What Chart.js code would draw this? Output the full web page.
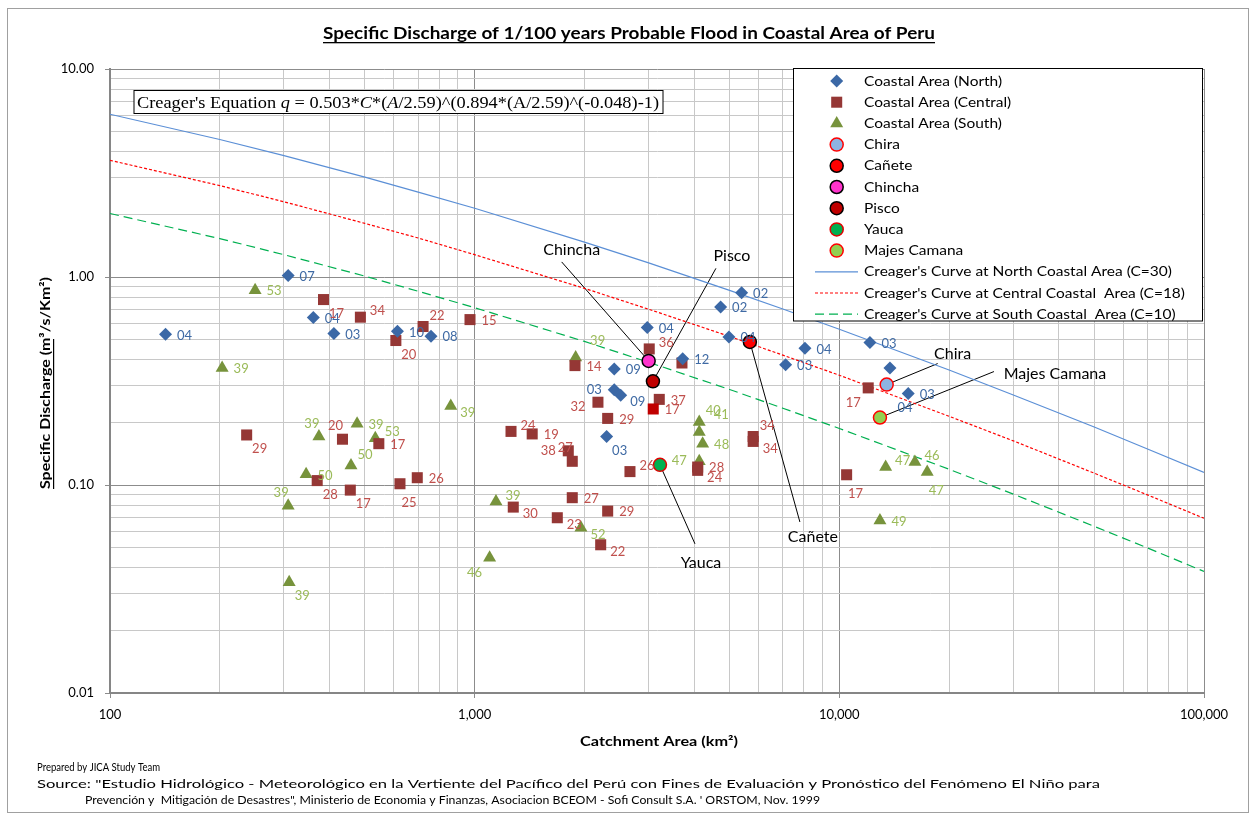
<!DOCTYPE html>
<html>
<head>
<meta charset="utf-8">
<script src="https://cdn.jsdelivr.net/npm/chart.js@4.4.1/dist/chart.umd.min.js"></script>
<style>
  html, body { margin: 0; padding: 0; background: #fff; }
  canvas { display: block; }
</style>
</head>
<body>
<canvas id="floodChart" width="1255" height="816"></canvas>
<script>
// ---- data ----
const northArea = [142, 308, 361, 411, 614, 759, 2974, 5396, 4726, 4981, 3719, 2414, 2414, 2514, 2301, 8049, 7125, 12132, 13764, 15449];
const northQ = [0.530, 1.017, 0.638, 0.535, 0.548, 0.519, 0.571, 0.839, 0.718, 0.515, 0.404, 0.361, 0.287, 0.270, 0.171, 0.454, 0.379, 0.484, 0.365, 0.275];
const northTags = ['04', '07', '04', '03', '10', '08', '04', '02', '02', '04', '12', '09', '03', '09', '03', '04', '03', '03', '04', '03'];

const centralArea = [385, 486, 608, 722, 971, 237, 434, 546, 370, 456, 624, 696, 3011, 3702, 1884, 2178, 2316, 3208, 3088, 1258, 1438, 1806, 1852, 5804, 5804, 2666, 4088, 4088, 1276, 1852, 2316, 1685, 2216, 12001, 10471];
const centralQ = [0.779, 0.641, 0.495, 0.578, 0.624, 0.174, 0.166, 0.158, 0.105, 0.0945, 0.1014, 0.1084, 0.451, 0.386, 0.375, 0.250, 0.209, 0.258, 0.232, 0.181, 0.176, 0.146, 0.130, 0.171, 0.162, 0.116, 0.122, 0.1176, 0.0783, 0.0869, 0.0749, 0.0696, 0.0516, 0.293, 0.112];
const centralTags = ['17', '34', '20', '22', '15', '29', '20', '17', '28', '17', '25', '26', '36', '', '14', '32', '29', '37', '17', '24', '19', '38', '27', '34', '34', '26', '28', '24', '30', '27', '29', '23', '22', '17', '17'];

const southArea = [250, 203, 860, 374, 476, 534, 458, 345, 308, 310, 1144, 1099, 1956, 1892, 4129, 4129, 4219, 4129, 13398, 16118, 17418, 12924];
const southQ = [0.864, 0.365, 0.240, 0.171, 0.197, 0.168, 0.124, 0.1125, 0.0795, 0.0341, 0.0834, 0.0447, 0.0623, 0.410, 0.201, 0.180, 0.158, 0.130, 0.122, 0.129, 0.1154, 0.0675];
const southTags = ['53', '39', '39', '39', '39', '53', '50', '50', '39', '39', '39', '46', '52', '39', '40', '41', '48', '47', '47', '46', '47', '49'];

const riverNames = ['Chira', 'Cañete', 'Chincha', 'Pisco', 'Yauca', 'Majes Camana'];
const riverArea = [13484, 5685, 3000, 3082, 3222, 12924];
const riverQ = [0.304, 0.487, 0.395, 0.315, 0.125, 0.211];

const curveArea = [100, 200, 300, 500, 700, 1000, 2000, 3000, 5000, 7000, 10000, 20000, 30000, 50000, 70000, 100000];
const curveNorth = [6.06, 4.58, 3.83, 3.02, 2.56, 2.14, 1.47, 1.17, 0.863, 0.702, 0.561, 0.357, 0.271, 0.190, 0.149, 0.115];
const curveCentral = [3.64, 2.75, 2.30, 1.81, 1.54, 1.28, 0.882, 0.700, 0.518, 0.421, 0.337, 0.214, 0.163, 0.114, 0.0896, 0.0692];
const curveSouth = [2.02, 1.53, 1.28, 1.01, 0.854, 0.712, 0.490, 0.389, 0.288, 0.234, 0.187, 0.119, 0.0904, 0.0633, 0.0498, 0.0384];

const chartTitle = 'Specific Discharge of 1/100 years Probable Flood in Coastal Area of Peru';
const xTitle = 'Catchment Area (km²)';
const yTitle = 'Specific Discharge (m³/s/Km²)';
const footNotes = [
  'Prepared by JICA Study Team',
  'Source: "Estudio Hidrológico - Meteorológico en la Vertiente del Pacífico del Perú con Fines de Evaluación y Pronóstico del Fenómeno El Niño para',
  'Prevención y  Mitigación de Desastres", Ministerio de Economia y Finanzas, Asociacion BCEOM - Sofi Consult S.A. \' ORSTOM, Nov. 1999'
];

// ---- label placement (style only) ----
const tagOffsets = {
  r: [19, 1], ru: [17, -6], rb: [17, 7], tr: [14, -11], tt: [22, -17], tl: [-7, -13],
  l: [-20, 0], lb: [-20, 5], bl: [-15, 15], br: [13, 14], b: [9, 19], bb: [15, 40]
};
const northPlace = ['r', 'r', 'r', 'r', 'r', 'r', 'r', 'r', 'r', 'r', 'r', 'r', 'l', 'rb', 'br', 'r', 'r', 'r', 'bb', 'r'];
const centralPlace = ['br', 'ru', 'br', 'tr', 'r', 'br', 'tl', 'r', 'br', 'br', 'b', 'r', 'ru', 'r', 'r', 'lb', 'r', 'r', 'r', 'ru', 'r', 'l', 'tl', 'tr', 'rb', 'ru', 'r', 'rb', 'rb', 'r', 'r', 'rb', 'rb', 'bl', 'b'];
const southPlace = ['r', 'r', 'rb', 'tl', 'r', 'ru', 'tr', 'r', 'tl', 'br', 'ru', 'bl', 'rb', 'tt', 'tr', 'tt', 'r', 'l', 'ru', 'ru', 'b', 'r'];

const riverFill = ['#8db4e2', '#ff0000', '#ff33cc', '#c00000', '#00b050', '#92d050'];
const riverEdge = ['#ff0000', '#000000', '#000000', '#000000', '#e00000', '#ff0000'];

// callout line end and text centre, relative to the river point
const callouts = [
  { ds: 5, end: [-87, -99], text: [-77, -111] },
  { ds: 6, end: [63, -113], text: [79, -126] },
  { ds: 4, end: [50, 180], text: [63, 195] },
  { ds: 7, end: [35, 79], text: [41, 98] },
  { ds: 3, end: [51, -21], text: [66, -31] },
  { ds: 8, end: [114, -46], text: [175, -44] }
];

const pts = (xs, ys) => xs.map((x, i) => ({ x: x, y: ys[i] }));

function isDecade(v) {
  const l = Math.log10(v);
  return Math.abs(l - Math.round(l)) < 1e-9;
}
function keepLogSteps(scale) {
  scale.ticks = scale.ticks.filter(t => {
    const m = t.value / Math.pow(10, Math.floor(Math.log10(t.value) + 1e-9));
    return Math.abs(m - Math.round(m)) < 1e-6;
  });
}

// draw text stretched horizontally to a given width
function fitText(ctx, text, x, y, width, font, align) {
  ctx.save();
  ctx.font = font;
  const w = ctx.measureText(text).width;
  const left = align === 'center' ? x - width / 2 : x;
  ctx.translate(left, y);
  ctx.scale(width / w, 1);
  ctx.textAlign = 'left';
  ctx.fillText(text, 0, 0);
  ctx.restore();
}

const gridStyle = {
  color: c => (c.tick && isDecade(c.tick.value)) ? '#8c8c8c' : '#c8c8c8',
  tickColor: c => (c.tick && isDecade(c.tick.value)) ? '#8c8c8c' : 'rgba(0,0,0,0)',
  tickLength: 5,
  lineWidth: 1
};

const datasets = [
  { label: 'Coastal Area (North)', data: pts(northArea, northQ), pointStyle: 'rectRot', pointRadius: 6.5,
    backgroundColor: '#3b68a6', borderColor: '#3b68a6', borderWidth: 0, order: 2,
    tags: northTags, place: northPlace, tagColor: '#3f6aa4' },
  { label: 'Coastal Area (Central)', data: pts(centralArea, centralQ), pointStyle: 'rect', pointRadius: 7.8,
    backgroundColor: c => c.dataIndex === 18 ? '#c00000' : '#953735', borderColor: '#953735', borderWidth: 0, order: 2,
    tags: centralTags, place: centralPlace, tagColor: '#c0504d' },
  { label: 'Coastal Area (South)', data: pts(southArea, southQ), pointStyle: 'triangle', pointRadius: 7.5,
    backgroundColor: '#77933c', borderColor: '#77933c', borderWidth: 0, order: 2,
    tags: southTags, place: southPlace, tagColor: '#9bbb59' }
];
riverNames.forEach((name, i) => {
  datasets.push({ label: name, data: [{ x: riverArea[i], y: riverQ[i] }], pointStyle: 'circle', pointRadius: 6.5,
    backgroundColor: riverFill[i], borderColor: riverEdge[i], borderWidth: 1.5, order: 1 });
});
[
  ['Creager\'s Curve at North Coastal Area (C=30)', curveNorth, '#5b8fd6', []],
  ['Creager\'s Curve at Central Coastal  Area (C=18)', curveCentral, '#ff0000', [3, 2]],
  ['Creager\'s Curve at South Coastal  Area (C=10)', curveSouth, '#00b050', [9, 5]]
].forEach(c => {
  datasets.push({ label: c[0], data: pts(curveArea, c[1]), showLine: true, pointRadius: 0, pointHoverRadius: 0,
    borderColor: c[2], backgroundColor: c[2], borderWidth: 1.2, borderDash: c[3], order: 3 });
});

const pageDecor = {
  id: 'pageDecor',
  beforeDraw(chart) {
    const ctx = chart.ctx;
    ctx.save();
    ctx.fillStyle = '#fff';
    ctx.fillRect(0, 0, chart.width, chart.height);
    ctx.strokeStyle = '#a0a0a0';
    ctx.lineWidth = 1;
    ctx.strokeRect(7.5, 8.5, 1241, 804);
    ctx.restore();
  },
  beforeDatasetsDraw(chart) {
    const ctx = chart.ctx;
    ctx.save();
    ctx.strokeStyle = '#000';
    ctx.lineWidth = 1;
    ctx.fillStyle = '#000';
    ctx.font = '16px Lato';
    ctx.textAlign = 'center';
    ctx.textBaseline = 'middle';
    callouts.forEach(c => {
      const p = chart.getDatasetMeta(c.ds).data[0];
      ctx.beginPath();
      ctx.moveTo(p.x, p.y);
      ctx.lineTo(p.x + c.end[0], p.y + c.end[1]);
      ctx.stroke();
      ctx.fillText(chart.data.datasets[c.ds].label, p.x + c.text[0], p.y + c.text[1]);
    });
    ctx.restore();
  },
  afterDatasetsDraw(chart) {
    const ctx = chart.ctx;
    ctx.save();
    ctx.font = '13px Lato';
    ctx.textAlign = 'center';
    ctx.textBaseline = 'middle';
    chart.data.datasets.forEach((ds, di) => {
      if (!ds.tags) return;
      ctx.fillStyle = ds.tagColor;
      chart.getDatasetMeta(di).data.forEach((p, i) => {
        if (!ds.tags[i]) return;
        const off = tagOffsets[ds.place[i]] || tagOffsets.r;
        ctx.fillText(ds.tags[i], p.x + off[0], p.y + off[1]);
      });
    });
    ctx.restore();
  },
  afterDraw(chart) {
    const ctx = chart.ctx;
    const area = chart.chartArea;
    ctx.save();
    ctx.fillStyle = '#000';
    ctx.textBaseline = 'alphabetic';

    // title
    fitText(ctx, chartTitle, 629, 39, 612, 'bold 17px Lato', 'center');
    ctx.fillRect(323, 42, 612, 1.3);

    // axis titles
    fitText(ctx, xTitle, 659, 746, 158, 'bold 14px Lato', 'center');
    ctx.save();
    ctx.translate(50, 383);
    ctx.rotate(-Math.PI / 2);
    fitText(ctx, yTitle, 0, 0, 212, 'bold 14px Lato', 'center');
    ctx.fillRect(-106, 3, 150, 1.2);
    ctx.restore();

    // footnotes
    fitText(ctx, footNotes[0], 37, 771, 123, '12px Lato', 'left');
    fitText(ctx, footNotes[1], 37, 788, 1063, '12px Lato', 'left');
    fitText(ctx, footNotes[2], 85, 804, 735, '12px Lato', 'left');

    // equation box
    ctx.fillStyle = '#fff';
    ctx.fillRect(134, 90.5, 529, 23);
    ctx.strokeStyle = '#000';
    ctx.lineWidth = 1;
    ctx.strokeRect(134, 90.5, 529, 23);
    const eq = [['Creager\'s Equation ', 0], ['q', 1], [' = 0.503*', 0], ['C', 1], ['*(', 0], ['A', 1], ['/2.59)^(0.894*(A/2.59)^(-0.048)-1)', 0]];
    let total = 0;
    eq.forEach(s => { ctx.font = (s[1] ? 'italic ' : '') + '16px "Liberation Serif"'; total += ctx.measureText(s[0]).width; });
    const k = 522 / total;
    ctx.save();
    ctx.translate(137, 107.5);
    ctx.scale(k, 1);
    let ex = 0;
    ctx.fillStyle = '#000';
    eq.forEach(s => {
      ctx.font = (s[1] ? 'italic ' : '') + '16px "Liberation Serif"';
      ctx.fillText(s[0], ex, 0);
      ex += ctx.measureText(s[0]).width;
    });
    ctx.restore();

    // legend
    const lx = 793.5, ly = 68.5, lw = 409, lh = 252.5;
    ctx.fillStyle = '#fff';
    ctx.fillRect(lx, ly, lw, lh);
    ctx.strokeStyle = '#000';
    ctx.lineWidth = 1;
    ctx.strokeRect(lx, ly, lw, lh);
    ctx.font = '14px Lato';
    ctx.textBaseline = 'middle';
    const longest = Math.max(...chart.data.datasets.map(d => ctx.measureText(d.label).width));
    const sx = 321 / longest;
    chart.data.datasets.forEach((ds, i) => {
      const y = 81 + i * 21.2;
      if (ds.showLine) {
        ctx.save();
        ctx.strokeStyle = ds.borderColor;
        ctx.lineWidth = ds.borderWidth;
        ctx.setLineDash(ds.borderDash);
        ctx.beginPath();
        ctx.moveTo(815, y);
        ctx.lineTo(858, y);
        ctx.stroke();
        ctx.restore();
      } else {
        ctx.save();
        ctx.fillStyle = typeof ds.backgroundColor === 'function' ? '#953735' : ds.backgroundColor;
        ctx.strokeStyle = ds.borderColor;
        ctx.lineWidth = ds.borderWidth;
        Chart.helpers.drawPoint(ctx, { pointStyle: ds.pointStyle, radius: ds.pointRadius, rotation: 0, borderWidth: ds.borderWidth }, 836.7, y);
        ctx.restore();
      }
      ctx.save();
      ctx.fillStyle = '#000';
      ctx.translate(864, y);
      ctx.scale(sx, 1);
      ctx.fillText(ds.label, 0, 0);
      ctx.restore();
    });
    ctx.restore();
  }
};

new Chart(document.getElementById('floodChart').getContext('2d'), {
  type: 'scatter',
  data: { datasets: datasets },
  options: {
    responsive: false,
    animation: false,
    devicePixelRatio: 1,
    layout: { padding: { left: 0, right: 51, top: 69, bottom: 83 } },
    plugins: { legend: { display: false }, tooltip: { enabled: false }, title: { display: false } },
    scales: {
      x: {
        type: 'logarithmic', min: 100, max: 100000, position: 'bottom',
        afterBuildTicks: keepLogSteps,
        afterFit: s => { s.height = 40; },
        grid: gridStyle,
        border: { color: '#868686', width: 2 },
        ticks: {
          autoSkip: false, maxRotation: 0, padding: 9, color: '#000', font: { family: 'Lato', size: 13 },
          callback: v => isDecade(v) ? Number(v).toLocaleString('en-US') : ''
        }
      },
      y: {
        type: 'logarithmic', min: 0.01, max: 10, position: 'left',
        afterBuildTicks: keepLogSteps,
        afterFit: s => { s.width = 110; },
        grid: gridStyle,
        border: { color: '#868686', width: 2 },
        ticks: {
          autoSkip: false, padding: 11, color: '#000', font: { family: 'Lato', size: 13 },
          callback: v => isDecade(v) ? Number(v).toFixed(2) : ''
        }
      }
    }
  },
  plugins: [pageDecor]
});
</script>
</body>
</html>
